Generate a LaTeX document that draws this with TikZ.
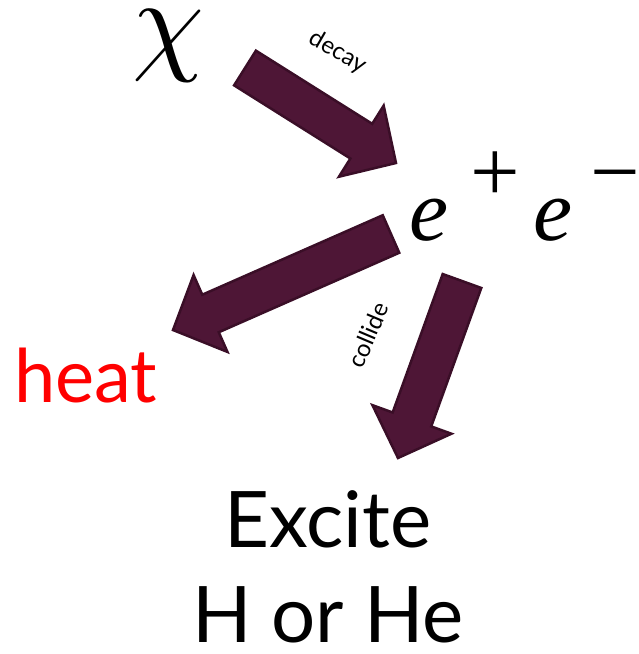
\documentclass[tikz,border=0pt]{standalone}
\usepackage{fontspec}
\setmainfont{Lato}
\newfontfamily\eqfont{Liberation Serif}
\usetikzlibrary{calc,positioning}
\definecolor{ArrowPlum}{HTML}{4E1636}
\definecolor{ArrowEdge}{HTML}{3A0E27}
\definecolor{HeatRed}{HTML}{FF0000}

% fat block arrow from #1 (tail) to #2 (tip)
\newcommand{\blockarrow}[2]{%
  \coordinate (#1-j) at ($(#2)!41pt!(#1)$);
  \filldraw[fatarrow] ($(#1)!20.5pt!90:(#2)$) -- ($(#1-j)!20.5pt!-90:(#1)$)
    -- ($(#1-j)!42pt!-90:(#1)$) -- (#2) -- ($(#1-j)!42pt!90:(#1)$)
    -- ($(#1-j)!20.5pt!90:(#1)$) -- ($(#1)!20.5pt!-90:(#2)$) -- cycle;}

\begin{document}
\begin{tikzpicture}[x=1pt, y=-1pt,
        fatarrow/.style={fill=ArrowPlum, draw=ArrowEdge, line width=2.5pt, line join=miter},
        bigtext/.style={inner sep=0pt, font=\fontsize{78}{94}\selectfont},
        eqtext/.style={inner sep=0pt, font=\fontsize{88}{100}\selectfont\eqfont\itshape},
        tag/.style={inner sep=0pt, font=\fontsize{24}{28}\selectfont}
        ]
        \useasboundingbox (0,0) rectangle (638,654);
        \node[inner sep=0pt, scale=11.5] (chi) at (168,46) {$\chi$};
        \node[eqtext, anchor=base west] (pair) at (409,240)
            {e\hspace{22pt}\raisebox{0.44em}{\upshape +}\hspace{14pt}e\hspace{18pt}\raisebox{0.44em}{\upshape −}};
        \node[bigtext, text=HeatRed, anchor=base west, font=\fontsize{74}{90}\selectfont] (heat) at (14,402) {heat};
        \node[bigtext, anchor=base] (excite) at (328,547) {Excite};
        \node[bigtext, anchor=base] (hhe) at ([yshift=-95pt]excite.base) {H or He};
        \node[tag, rotate=-30] (decaylbl) at (338,52) {decay};
        \node[tag, rotate=67] (collidelbl) at (368,335) {collide};
        % arrows
        \coordinate (decay) at (245,68);
        \coordinate (decay-tip) at (396,163);
        \coordinate (cool) at (391,234);
        \coordinate (cool-tip) at (173,330);
        \coordinate (collide) at (462,281);
        \coordinate (collide-tip) at (398,458);
        \blockarrow{decay}{decay-tip}
        \blockarrow{cool}{cool-tip}
        \blockarrow{collide}{collide-tip}
\end{tikzpicture}
\end{document}
